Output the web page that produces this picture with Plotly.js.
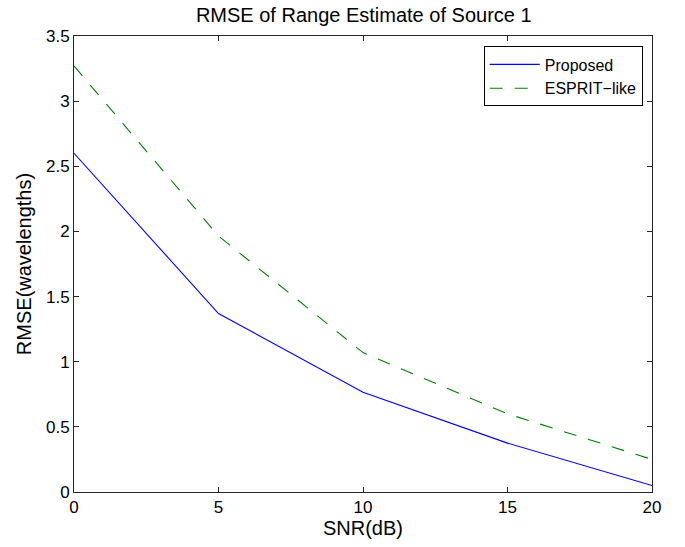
<!DOCTYPE html>
<html>
<head>
<meta charset="utf-8">
<script src="https://cdn.plot.ly/plotly-3.0.1.min.js"></script>
<style>html,body{margin:0;padding:0;background:#fff;}#chart{width:685px;height:547px;}</style>
</head>
<body>
<div id="chart"></div>
<script>
const snr = [0, 5, 10, 15, 20];
const proposed = [2.6, 1.37, 0.765, 0.375, 0.05];
const espritLike = [3.27, 1.965, 1.07, 0.6, 0.25];
const seriesNames = ["Proposed", "ESPRIT\u2212like"];
const xTicks = [0, 5, 10, 15, 20];
const yTicks = [0, 0.5, 1, 1.5, 2, 2.5, 3, 3.5];
const yTickText = ["0", "0.5", "1", "1.5", "2", "2.5", "3", "3.5"];

const font = "Liberation Sans, Arial, Helvetica, sans-serif";
const axisCommon = {
  showgrid: false, zeroline: false, showline: true, mirror: "ticks",
  linecolor: "#262626", linewidth: 1, ticks: "inside", ticklen: 5,
  tickcolor: "#262626", tickfont: {family: font, size: 17, color: "#000"}
};
const traces = [
  {x: snr, y: proposed, name: seriesNames[0], mode: "lines", type: "scatter",
   line: {color: "#0000ff", width: 1.1}},
  {x: snr, y: espritLike, name: seriesNames[1], mode: "lines", type: "scatter",
   line: {color: "#008000", width: 1.1, dash: "13px,12px"}}
];
const layout = {
  width: 685, height: 547,
  margin: {l: 74, r: 33, t: 36, b: 55},
  paper_bgcolor: "#fff", plot_bgcolor: "#fff",
  title: {text: "RMSE of Range Estimate of Source 1", font: {family: font, size: 20, color: "#000"},
          x: 0.531, xanchor: "center", y: 0.973, yanchor: "middle"},
  xaxis: Object.assign({}, axisCommon, {range: [0, 20], tickvals: xTicks,
    title: {text: "SNR(dB)", font: {family: font, size: 20, color: "#000"}, standoff: 4}}),
  yaxis: Object.assign({}, axisCommon, {range: [0, 3.5], tickvals: yTicks, ticktext: yTickText,
    title: {text: "RMSE(wavelengths)", font: {family: font, size: 20, color: "#000"}, standoff: 8}}),
  showlegend: true,
  legend: {x: 0.984, xanchor: "right", y: 0.977, yanchor: "top",
    bgcolor: "#fff", bordercolor: "#000", borderwidth: 1,
    font: {family: font, size: 16, color: "#000"}, tracegroupgap: 0, itemwidth: 50}
};
Plotly.newPlot("chart", traces, layout, {displayModeBar: false, staticPlot: true});
</script>
</body>
</html>
